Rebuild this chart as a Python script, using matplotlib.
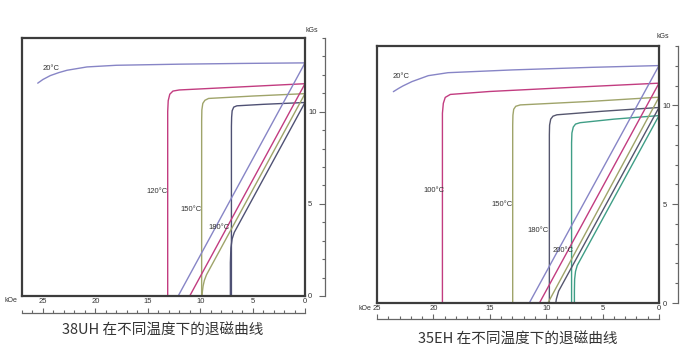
import matplotlib
matplotlib.use("Agg")
import matplotlib.pyplot as plt
from matplotlib.ticker import MultipleLocator, FixedLocator

plt.rcParams['font.family'] = ['Liberation Sans', 'Noto Sans CJK SC', 'DejaVu Sans']

W, H = 694, 356

# ---------------- data: 38UH ----------------
uh_title = "38UH 在不同温度下的退磁曲线"
uh_temps = ["20°C", "120°C", "150°C", "180°C"]
uh_colors = ["#8785c6", "#c23c80", "#9fa46a", "#4f5174"]
# intrinsic curves (H in kOe, B in kGs)
uh_i_H = [
    [25.5, 25.0, 24.3, 23.5, 22.7, 20.8, 18.0, 12.0, 6.0, 0.0],
    [0.0, 6.0, 12.0, 12.6, 12.9, 13.05, 13.1, 13.1],
    [0.0, 5.0, 9.2, 9.55, 9.75, 9.84, 9.86, 9.86],
    [0.0, 4.0, 6.5, 6.8, 6.95, 7.0, 7.02, 7.02],
]
uh_i_B = [
    [11.55, 11.75, 11.96, 12.12, 12.25, 12.43, 12.52, 12.58, 12.62, 12.65],
    [11.52, 11.35, 11.18, 11.12, 10.95, 10.6, 10.0, 0.0],
    [10.98, 10.85, 10.72, 10.62, 10.45, 10.1, 9.5, 0.0],
    [10.5, 10.4, 10.32, 10.25, 10.05, 9.7, 9.2, 0.0],
]
# normal curves
uh_n_H = [
    [0.0, 12.1],
    [0.0, 11.0],
    [0.0, 9.4, 9.6, 9.72, 9.8, 9.82],
    [0.0, 6.75, 6.95, 7.07, 7.12, 7.12],
]
uh_n_B = [
    [12.65, 0.0],
    [11.52, 0.0],
    [10.98, 1.15, 0.85, 0.55, 0.2, 0.0],
    [10.5, 3.45, 3.1, 2.6, 1.8, 0.0],
]
uh_label_pos = [(24.18, 12.33), (14.12, 5.65), (10.87, 4.67), (8.21, 3.70)]

# ---------------- data: 35EH ----------------
eh_title = "35EH 在不同温度下的退磁曲线"
eh_temps = ["20°C", "100°C", "150°C", "180°C", "200°C"]
eh_colors = ["#8785c6", "#c23c80", "#9fa46a", "#55566e", "#3f9e86"]
eh_i_H = [
    [23.55, 23.1, 22.7, 21.9, 20.45, 18.7, 13.0, 6.0, 0.0],
    [0.0, 8.0, 15.0, 18.5, 18.95, 19.12, 19.2, 19.2],
    [0.0, 6.0, 12.3, 12.7, 12.88, 12.95, 12.97, 12.97],
    [0.0, 5.0, 9.05, 9.4, 9.6, 9.7, 9.72, 9.72],
    [0.0, 4.0, 7.0, 7.4, 7.6, 7.72, 7.75, 7.75],
]
eh_i_B = [
    [10.69, 10.85, 10.98, 11.2, 11.5, 11.65, 11.79, 11.92, 12.01],
    [11.12, 10.9, 10.7, 10.55, 10.4, 10.1, 9.6, 0.0],
    [10.41, 10.2, 10.02, 9.95, 9.8, 9.5, 9.0, 0.0],
    [9.89, 9.7, 9.52, 9.45, 9.3, 9.0, 8.5, 0.0],
    [9.48, 9.3, 9.12, 9.05, 8.9, 8.6, 8.1, 0.0],
]
eh_n_H = [
    [0.0, 11.5],
    [0.0, 10.6],
    [0.0, 9.85],
    [0.0, 8.9, 9.1, 9.15],
    [0.0, 7.25, 7.4, 7.48, 7.5, 7.5],
]
eh_n_B = [
    [12.01, 0.0],
    [11.12, 0.0],
    [10.41, 0.0],
    [9.89, 0.6, 0.2, 0.0],
    [9.48, 1.9, 1.6, 1.2, 0.6, 0.0],
]
eh_label_pos = [(22.9, 11.45), (19.95, 5.68), (13.92, 5.0), (10.73, 3.66), (8.54, 2.68)]

x_ticks = [0, 5, 10, 15, 20, 25]
y_ticks = [0, 5, 10]

fig = plt.figure(figsize=(W / 100, H / 100), dpi=100)
fig.patch.set_facecolor("white")

FRAME = "#3c3c3c"
AXC = "#666666"
TXT = "#333333"
TFS = 5.5


def px_rect(x0, y0, x1, y1):
    return [x0 / W, (H - y1) / H, (x1 - x0) / W, (y1 - y0) / H]


def panel(frame, xmax, ymax, rline_x, bline_y, i_H, i_B, n_H, n_B, colors, temps,
          label_pos, title, title_xy, kgs_xy, koe_xy, ylabpad, xlabpad):
    x0, y0, x1, y1 = frame
    ax = fig.add_axes(px_rect(x0, y0, x1, y1))
    ax.set_xlim(xmax, 0)
    ax.set_ylim(0, ymax)
    for s in ax.spines.values():
        s.set_color(FRAME)
        s.set_linewidth(1.6)
    for h, b, c in zip(i_H, i_B, colors):
        ax.plot(h, b, color=c, lw=1.0, solid_capstyle="round")
    for h, b, c in zip(n_H, n_B, colors):
        ax.plot(h, b, color=c, lw=1.0, solid_capstyle="round")
    for t, (lx, ly) in zip(temps, label_pos):
        ax.text(lx, ly, t, fontsize=TFS, color=TXT, ha="center", va="center")
    ax.xaxis.set_major_locator(FixedLocator(x_ticks))
    ax.yaxis.set_major_locator(FixedLocator(y_ticks))
    ax.yaxis.tick_right()
    ax.tick_params(axis="x", length=0, pad=xlabpad, labelsize=TFS, labelcolor=TXT)
    ax.tick_params(axis="y", length=0, pad=ylabpad, labelsize=TFS, labelcolor=TXT)

    # separate right axis line
    ay = fig.add_axes(px_rect(rline_x, y0, rline_x + 5, y1))
    ay.set_ylim(0, ymax)
    ay.patch.set_alpha(0)
    for k, s in ay.spines.items():
        s.set_visible(k == "left")
    ay.spines["left"].set_color(AXC)
    ay.spines["left"].set_linewidth(0.9)
    ay.set_xticks([])
    ay.yaxis.set_major_locator(FixedLocator(y_ticks))
    ay.yaxis.set_minor_locator(MultipleLocator(1))
    ay.tick_params(axis="y", which="major", direction="out", length=4, width=0.8,
                   color=AXC, labelleft=False)
    ay.tick_params(axis="y", which="minor", direction="out", length=2.5, width=0.8,
                   color=AXC)

    # separate bottom axis line
    ab = fig.add_axes(px_rect(x0, bline_y - 5, x1, bline_y))
    ab.set_xlim(xmax, 0)
    ab.patch.set_alpha(0)
    for k, s in ab.spines.items():
        s.set_visible(k == "bottom")
    ab.spines["bottom"].set_color(AXC)
    ab.spines["bottom"].set_linewidth(0.9)
    ab.set_yticks([])
    ab.xaxis.set_major_locator(FixedLocator(x_ticks))
    ab.xaxis.set_minor_locator(MultipleLocator(1))
    ab.tick_params(axis="x", which="major", direction="in", length=3.5, width=0.8,
                   color=AXC, labelbottom=False)
    ab.tick_params(axis="x", which="minor", direction="in", length=2, width=0.8,
                   color=AXC)

    fig.text(kgs_xy[0] / W, 1 - kgs_xy[1] / H, "kGs", fontsize=5, color=TXT,
             ha="center", va="center")
    fig.text(koe_xy[0] / W, 1 - koe_xy[1] / H, "kOe", fontsize=5, color=TXT,
             ha="center", va="center")
    fig.text(title_xy[0] / W, 1 - title_xy[1] / H, title, fontsize=10.5, color=TXT,
             ha="center", va="center", family=["Noto Sans CJK SC", "DejaVu Sans"])


panel((22, 38, 305, 296), 27, 14, 325, 312.7, uh_i_H, uh_i_B, uh_n_H, uh_n_B,
      uh_colors, uh_temps, uh_label_pos, uh_title, (163, 331), (312, 30), (11, 301),
      2.2, 1.5)
panel((377, 46, 659, 303), 25, 13, 678, 319.3, eh_i_H, eh_i_B, eh_n_H, eh_n_B,
      eh_colors, eh_temps, eh_label_pos, eh_title, (518, 340), (663, 37), (365, 308),
      2.8, 1.5)

fig.savefig("out.png", dpi=100, facecolor="white")
